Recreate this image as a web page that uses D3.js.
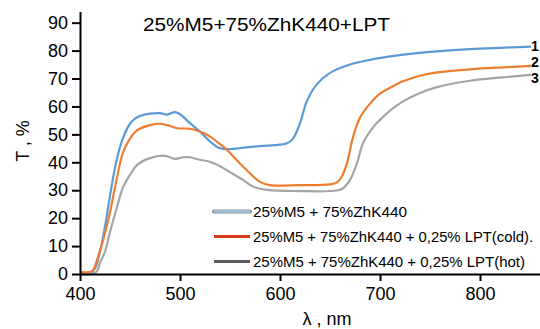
<!DOCTYPE html>
<html>
<head>
<meta charset="utf-8">
<script src="https://cdn.jsdelivr.net/npm/d3@7/dist/d3.min.js"></script>
<style>
  body { margin: 0; background: #fff; }
  svg { display: block; font-family: "Liberation Sans", Arial, sans-serif; }
</style>
</head>
<body>
<svg width="540" height="329"></svg>
<script>
// data
var titleText = "25%M5+75%ZhK440+LPT";
var xTicks = [400, 500, 600, 700, 800];
var yTicks = [0, 10, 20, 30, 40, 50, 60, 70, 80, 90];
var seriesNames = [
  "25%M5 + 75%ZhK440",
  "25%M5 + 75%ZhK440 + 0,25% LPT(cold).",
  "25%M5 + 75%ZhK440 + 0,25% LPT(hot)"
];
var curveLabels = ["1", "2", "3"];

var wlBlue = [400, 410, 415, 420, 425, 430, 435, 440, 445, 450, 455, 460, 470, 480, 487, 495, 500, 510, 520, 530, 540, 550, 563, 580, 600, 607, 613, 620, 627, 637, 650, 670, 690, 710, 730, 760, 790, 820, 851];
var tBlue  = [0, 0.3, 2, 8, 17, 28, 38, 45.5, 50.5, 53.8, 55.6, 56.6, 57.4, 57.6, 57.1, 58, 57.2, 54, 51, 47.5, 45, 44.7, 45.2, 45.8, 46.3, 46.8, 48.5, 54, 62, 68, 72, 75, 76.7, 77.9, 78.8, 79.8, 80.5, 81, 81.4];

var wlOrange = [400, 412, 417, 423, 430, 435, 443, 450, 457, 470, 480, 490, 497, 510, 520, 530, 540, 547, 563, 580, 590, 620, 650, 657, 662, 667, 673, 680, 690, 700, 710, 723, 740, 757, 790, 823, 851];
var tOrange  = [0.8, 1, 5, 12, 22, 31, 43.5, 48.5, 51.4, 53.3, 53.8, 53, 52.2, 52, 51, 49.2, 46.5, 44.4, 38.5, 33, 31.8, 31.8, 32.1, 32.8, 35, 39.7, 49, 56, 61, 64.6, 66.7, 69, 71, 72.2, 73.3, 74, 74.5];

var wlGray = [400, 412, 417, 420, 425, 430, 437, 443, 450, 457, 470, 483, 490, 495, 503, 510, 520, 530, 540, 550, 563, 573, 587, 620, 657, 663, 670, 677, 683, 693, 700, 710, 723, 740, 757, 790, 823, 851];
var tGray  = [0, 0, 1, 4, 8, 15, 24, 31, 35.5, 39, 41.5, 42.4, 41.8, 41.2, 41.8, 41.8, 40.9, 40.2, 38.6, 36.5, 33.7, 31.3, 30.1, 29.7, 29.9, 30.7, 33.7, 39.7, 46.8, 52.5, 55.2, 58.5, 61.8, 64.8, 66.9, 69.2, 70.4, 71.3];

var series = [
  {wl: wlBlue, t: tBlue, color: "#5b9bd5", legend: "#9dc3e6", edge: "#8e8e8e"},
  {wl: wlOrange, t: tOrange, color: "#ed7d31", legend: "#d8391b", edge: null},
  {wl: wlGray, t: tGray, color: "#a5a5a5", legend: "#5a5a5a", edge: null}
];

var svg = d3.select("svg");

var x = d3.scaleLinear().domain([400, 860]).range([80, 540]);
var y = d3.scaleLinear().domain([0, 94]).range([274, 11.5]);

// curves
var line = d3.line()
  .x(function(d){ return x(d[0]); })
  .y(function(d){ return y(d[1]); })
  .curve(d3.curveCatmullRom.alpha(0.5));

series.forEach(function(s){
  svg.append("path")
    .datum(d3.zip(s.wl, s.t))
    .attr("fill", "none")
    .attr("stroke", s.color)
    .attr("stroke-width", 2.2)
    .attr("stroke-linejoin", "round")
    .attr("d", line);
});

// y axis
var gy = svg.append("g")
  .attr("transform", "translate(80,0)")
  .call(d3.axisLeft(y).tickValues(yTicks).tickSize(8).tickSizeOuter(0).tickPadding(4));
gy.select(".domain").attr("stroke-width", 2);
gy.selectAll(".tick line").attr("stroke-width", 2);
gy.selectAll("text").attr("font-size", 18).attr("fill", "#000")
  .attr("font-family", "Liberation Sans, Arial, sans-serif");

// x axis
var gx = svg.append("g")
  .attr("transform", "translate(0,274)")
  .call(d3.axisBottom(x).tickValues(xTicks).tickSize(7).tickSizeOuter(0).tickPadding(6));
gx.select(".domain").attr("stroke-width", 2);
gx.selectAll(".tick line").attr("stroke-width", 2);
gx.selectAll("text").attr("font-size", 18).attr("fill", "#000")
  .attr("font-family", "Liberation Sans, Arial, sans-serif");

// titles
svg.append("text")
  .attr("x", 143).attr("y", 31)
  .attr("font-size", 18)
  .attr("textLength", 247).attr("lengthAdjust", "spacingAndGlyphs")
  .text(titleText);

svg.append("text")
  .attr("transform", "translate(29,141) rotate(-90)")
  .attr("text-anchor", "middle")
  .attr("font-size", 18)
  .text("T , %");

svg.append("text")
  .attr("x", 327).attr("y", 325)
  .attr("text-anchor", "middle")
  .attr("font-size", 18)
  .text("\u03bb , nm");

// curve numbers at the right edge
svg.selectAll(".num")
  .data(curveLabels)
  .enter().append("text")
  .attr("x", 531)
  .attr("y", function(d, i){ return 51 + i * 16; })
  .attr("font-size", 14)
  .attr("font-weight", "bold")
  .text(function(d){ return d; });

// legend
var legendX = [214, 250];
var leg = svg.append("g");
series.forEach(function(s, i){
  var ly = 211.5 + i * 25;
  if (s.edge) {
    leg.append("line")
      .attr("x1", legendX[0]).attr("x2", legendX[1])
      .attr("y1", ly).attr("y2", ly)
      .attr("stroke", s.edge).attr("stroke-width", 4).attr("stroke-linecap", "round");
  }
  leg.append("line")
    .attr("x1", legendX[0]).attr("x2", legendX[1])
    .attr("y1", ly).attr("y2", ly)
    .attr("stroke", s.legend).attr("stroke-width", s.edge ? 2.5 : 3);
  leg.append("text")
    .attr("x", 253).attr("y", ly + 5)
    .attr("font-family", "Liberation Sans Narrow, Liberation Sans, sans-serif")
    .attr("font-size", 14.5)
    .attr("textLength", [154, 280, 272][i]).attr("lengthAdjust", "spacingAndGlyphs")
    .text(seriesNames[i]);
});
</script>
</body>
</html>
